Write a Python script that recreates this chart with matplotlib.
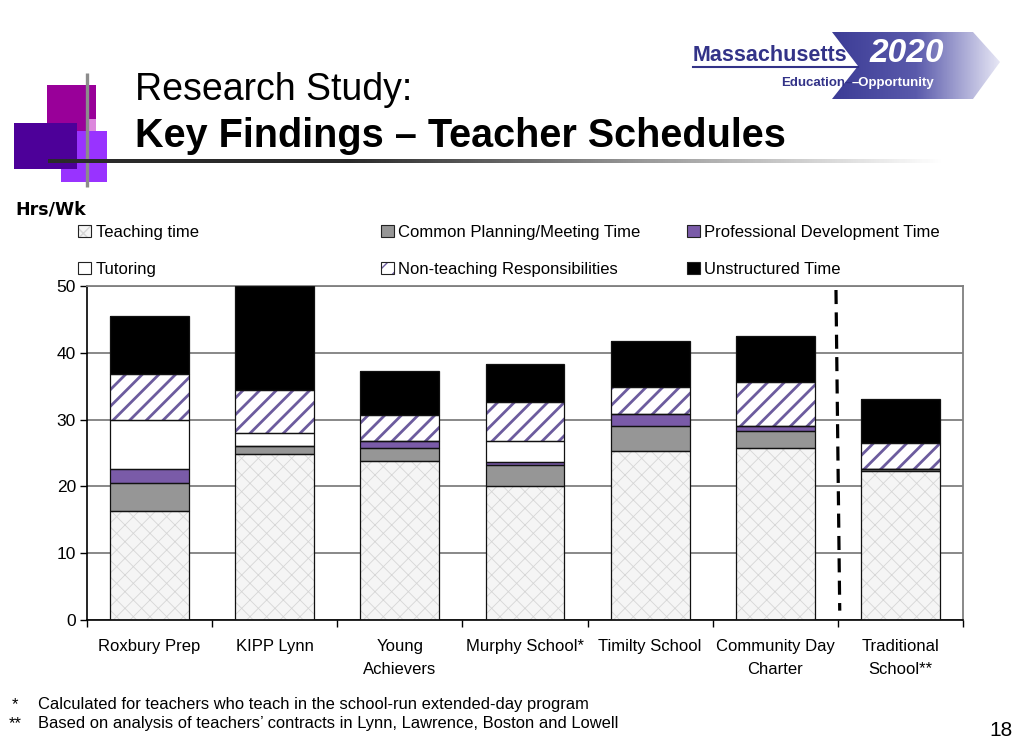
import numpy as np
import matplotlib
matplotlib.use('Agg')
import matplotlib.pyplot as plt
from matplotlib.patches import Rectangle, Polygon, Patch
from matplotlib.colors import LinearSegmentedColormap

NARROW = ['Liberation Sans Narrow', 'DejaVu Sans Condensed', 'Liberation Sans', 'DejaVu Sans']
plt.rcParams['font.family'] = NARROW

# ---------------- data ----------------
categories = ['Roxbury Prep', 'KIPP Lynn', 'Young\nAchievers', 'Murphy School*',
              'Timilty School', 'Community Day\nCharter', 'Traditional\nSchool**']
teaching = [16.25, 24.9, 23.75, 20.0, 25.25, 25.8, 22.25]
common_planning = [4.3, 1.1, 2.0, 3.15, 3.8, 2.55, 0.3]
prof_dev = [2.0, 0.0, 1.05, 0.5, 1.85, 0.7, 0.0]
tutoring = [7.45, 2.0, 0.0, 3.15, 0.0, 0.0, 0.0]
non_teaching = [6.8, 6.4, 3.85, 5.85, 4.0, 6.6, 4.0]
unstructured = [8.7, 15.6, 6.65, 5.65, 6.8, 6.9, 6.5]
series_names = ['Teaching time', 'Common Planning/Meeting Time', 'Professional Development Time',
                'Tutoring', 'Non-teaching Responsibilities', 'Unstructured Time']
yticks = [0, 10, 20, 30, 40, 50]

# styles: face, hatch, hatch colour, hatch lw
styles = [
    ('#f5f5f5', 'xx', '#d6d6d6', 0.6),
    ('#969696', None, '#969696', 1.0),
    ('#7a5ba8', None, '#7a5ba8', 1.0),
    ('white', None, 'white', 1.0),
    ('white', '//', '#6c5c9e', 2.0),
    ('black', None, 'black', 1.0),
]
values = [teaching, common_planning, prof_dev, tutoring, non_teaching, unstructured]

W, H = 1024, 745
fig = plt.figure(figsize=(W / 100, H / 100), dpi=100)
fig.patch.set_facecolor('white')

# decorations axes in pixel coordinates
deco = fig.add_axes([0, 0, 1, 1], zorder=0)
deco.set_xlim(0, W)
deco.set_ylim(H, 0)
deco.axis('off')

deco.add_patch(Rectangle((47, 85), 49, 47, color='#990099', lw=0))
deco.add_patch(Rectangle((89, 119), 7, 12, color='#dd88dd', lw=0))
deco.add_patch(Rectangle((61, 131), 46, 51, color='#9933ff', lw=0))
deco.add_patch(Rectangle((14, 123), 63, 46, color='#4d0099', lw=0))
deco.plot([87, 87], [73, 187], color='#8c8c8c', lw=2.4, solid_capstyle='butt')
grad_cmap = LinearSegmentedColormap.from_list('g', ['#2a2a2a', '#2a2a2a', '#9a9a9a', '#ffffff'])
deco.imshow(np.linspace(0, 1, 300)[None, :], cmap=grad_cmap, aspect='auto',
            extent=[48, 945, 163, 159], interpolation='bilinear', zorder=3)

# title
deco.text(135, 100, 'Research Study:', fontsize=27, color='black', ha='left', va='baseline')
deco.text(135, 147, 'Key Findings \u2013 Teacher Schedules', fontsize=28.5, fontweight='bold',
          color='black', ha='left', va='baseline')

# logo
pts = [(832, 32), (973, 32), (1000, 62), (973, 99), (832, 99), (858, 66)]
poly = Polygon(pts, closed=True, facecolor='none', edgecolor='none')
deco.add_patch(poly)
logo_cmap = LinearSegmentedColormap.from_list('l', ['#3c3c96', '#5a5aab', '#e6e6f5'])
im = deco.imshow(np.linspace(0, 1, 200)[None, :], cmap=logo_cmap, aspect='auto',
                 extent=[832, 1000, 99, 32], interpolation='bilinear', zorder=2)
im.set_clip_path(poly)
deco.set_xlim(0, W)
deco.set_ylim(H, 0)
deco.text(693, 61, 'Massachusetts', fontsize=15.5, fontweight='bold', color='#333388',
          ha='left', va='baseline', zorder=4)
deco.plot([693, 858], [67, 67], color='#333388', lw=1.5, zorder=4)
deco.text(870, 62, '2020', fontsize=24, fontweight='bold', fontstyle='italic', color='white',
          ha='left', va='baseline', zorder=4)
deco.text(852, 86, 'Education\u2013', fontsize=9.5, fontweight='bold', color='#333388',
          ha='right', va='baseline', zorder=4)
deco.text(852, 86, '\u2013Opportunity', fontsize=9.5, fontweight='bold', color='white',
          ha='left', va='baseline', zorder=4)

# y label
deco.text(15, 214, 'Hrs/Wk', fontsize=12.5, fontweight='bold', family='DejaVu Sans',
          ha='left', va='baseline')

# footnotes
FN = 11.9
deco.text(12, 709, '*', fontsize=FN, ha='left', va='baseline')
deco.text(38, 709, 'Calculated for teachers who teach in the school-run extended-day program',
          fontsize=FN, ha='left', va='baseline')
deco.text(9, 728, '**', fontsize=FN, ha='left', va='baseline')
deco.text(38, 728, 'Based on analysis of teachers\u2019 contracts in Lynn, Lawrence, Boston and Lowell',
          fontsize=FN, ha='left', va='baseline')
deco.text(1013, 736, '18', fontsize=15, ha='right', va='baseline')

# ---------------- chart ----------------
ax = fig.add_axes([87 / W, 1 - 620 / H, 876 / W, 334 / H], zorder=2)
ax.set_facecolor('none')
x = np.arange(len(categories))
width = 0.63
bottom = np.zeros(len(categories))
handles = []
for name, vals, (face, hatch, hcol, hlw) in zip(series_names, values, styles):
    vals = np.asarray(vals, dtype=float)
    with plt.rc_context({'hatch.linewidth': hlw}):
        bars = ax.bar(x, vals, width, bottom=bottom, color=face, hatch=hatch, edgecolor=hcol,
                      linewidth=0, zorder=2)
        for b in bars:
            if hasattr(b, 'set_hatch_linewidth'):
                b.set_hatch_linewidth(hlw)
        ax.bar(x, vals, width, bottom=bottom, fill=False, edgecolor='#111111', linewidth=0.9, zorder=3)
        fill_h = Patch(facecolor=face, hatch=hatch, edgecolor=hcol, linewidth=0)
        if hasattr(fill_h, 'set_hatch_linewidth'):
            fill_h.set_hatch_linewidth(min(hlw, 1.0))
    edge_h = Patch(facecolor='none', edgecolor='#222222', linewidth=0.8)
    handles.append(((fill_h, edge_h), name))
    bottom += vals

# divider between real schools and traditional school
bnd = x[-1] - 0.5
ax.plot([bnd - 0.015, bnd + 0.015], [49.4, 1.4], color='black', lw=2.3,
        dashes=(4.4, 2.6), zorder=4)

ax.set_xlim(-0.5, len(categories) - 0.5)
ax.set_ylim(0, 50)
ax.set_yticks(yticks)
ax.set_yticklabels([str(v) for v in yticks], fontsize=12.5)
ax.tick_params(axis='y', length=5, width=1, pad=3, color='black')
ax.set_xticks(np.arange(-0.5, len(categories), 1.0))
ax.set_xticklabels([])
ax.tick_params(axis='x', which='major', length=5, width=1, color='black')
ax.set_xticks(x, minor=True)
ax.set_xticklabels(categories, minor=True, fontsize=12, linespacing=1.6)
ax.tick_params(axis='x', which='minor', length=0, pad=14)
ax.yaxis.grid(True, color='#7f7f7f', lw=1.3, zorder=0)
ax.set_axisbelow(True)
for s in ['left', 'bottom']:
    ax.spines[s].set_color('black')
    ax.spines[s].set_linewidth(1.2)
for s in ['top', 'right']:
    ax.spines[s].set_color('#7f7f7f')
    ax.spines[s].set_linewidth(1.3)

# legend: three columns of two rows
col_x = [78, 381, 687]
for ci in range(3):
    hh = [handles[ci], handles[ci + 3]]
    fig.legend([p for p, _ in hh], [n for _, n in hh], loc='upper left',
               bbox_to_anchor=(col_x[ci] / W, 1 - 225 / H), frameon=False,
               fontsize=12, handlelength=0.75, handleheight=0.75, handletextpad=0.3,
               labelspacing=1.3, borderpad=0, borderaxespad=0)

fig.savefig('out.png', dpi=100, facecolor='white')
